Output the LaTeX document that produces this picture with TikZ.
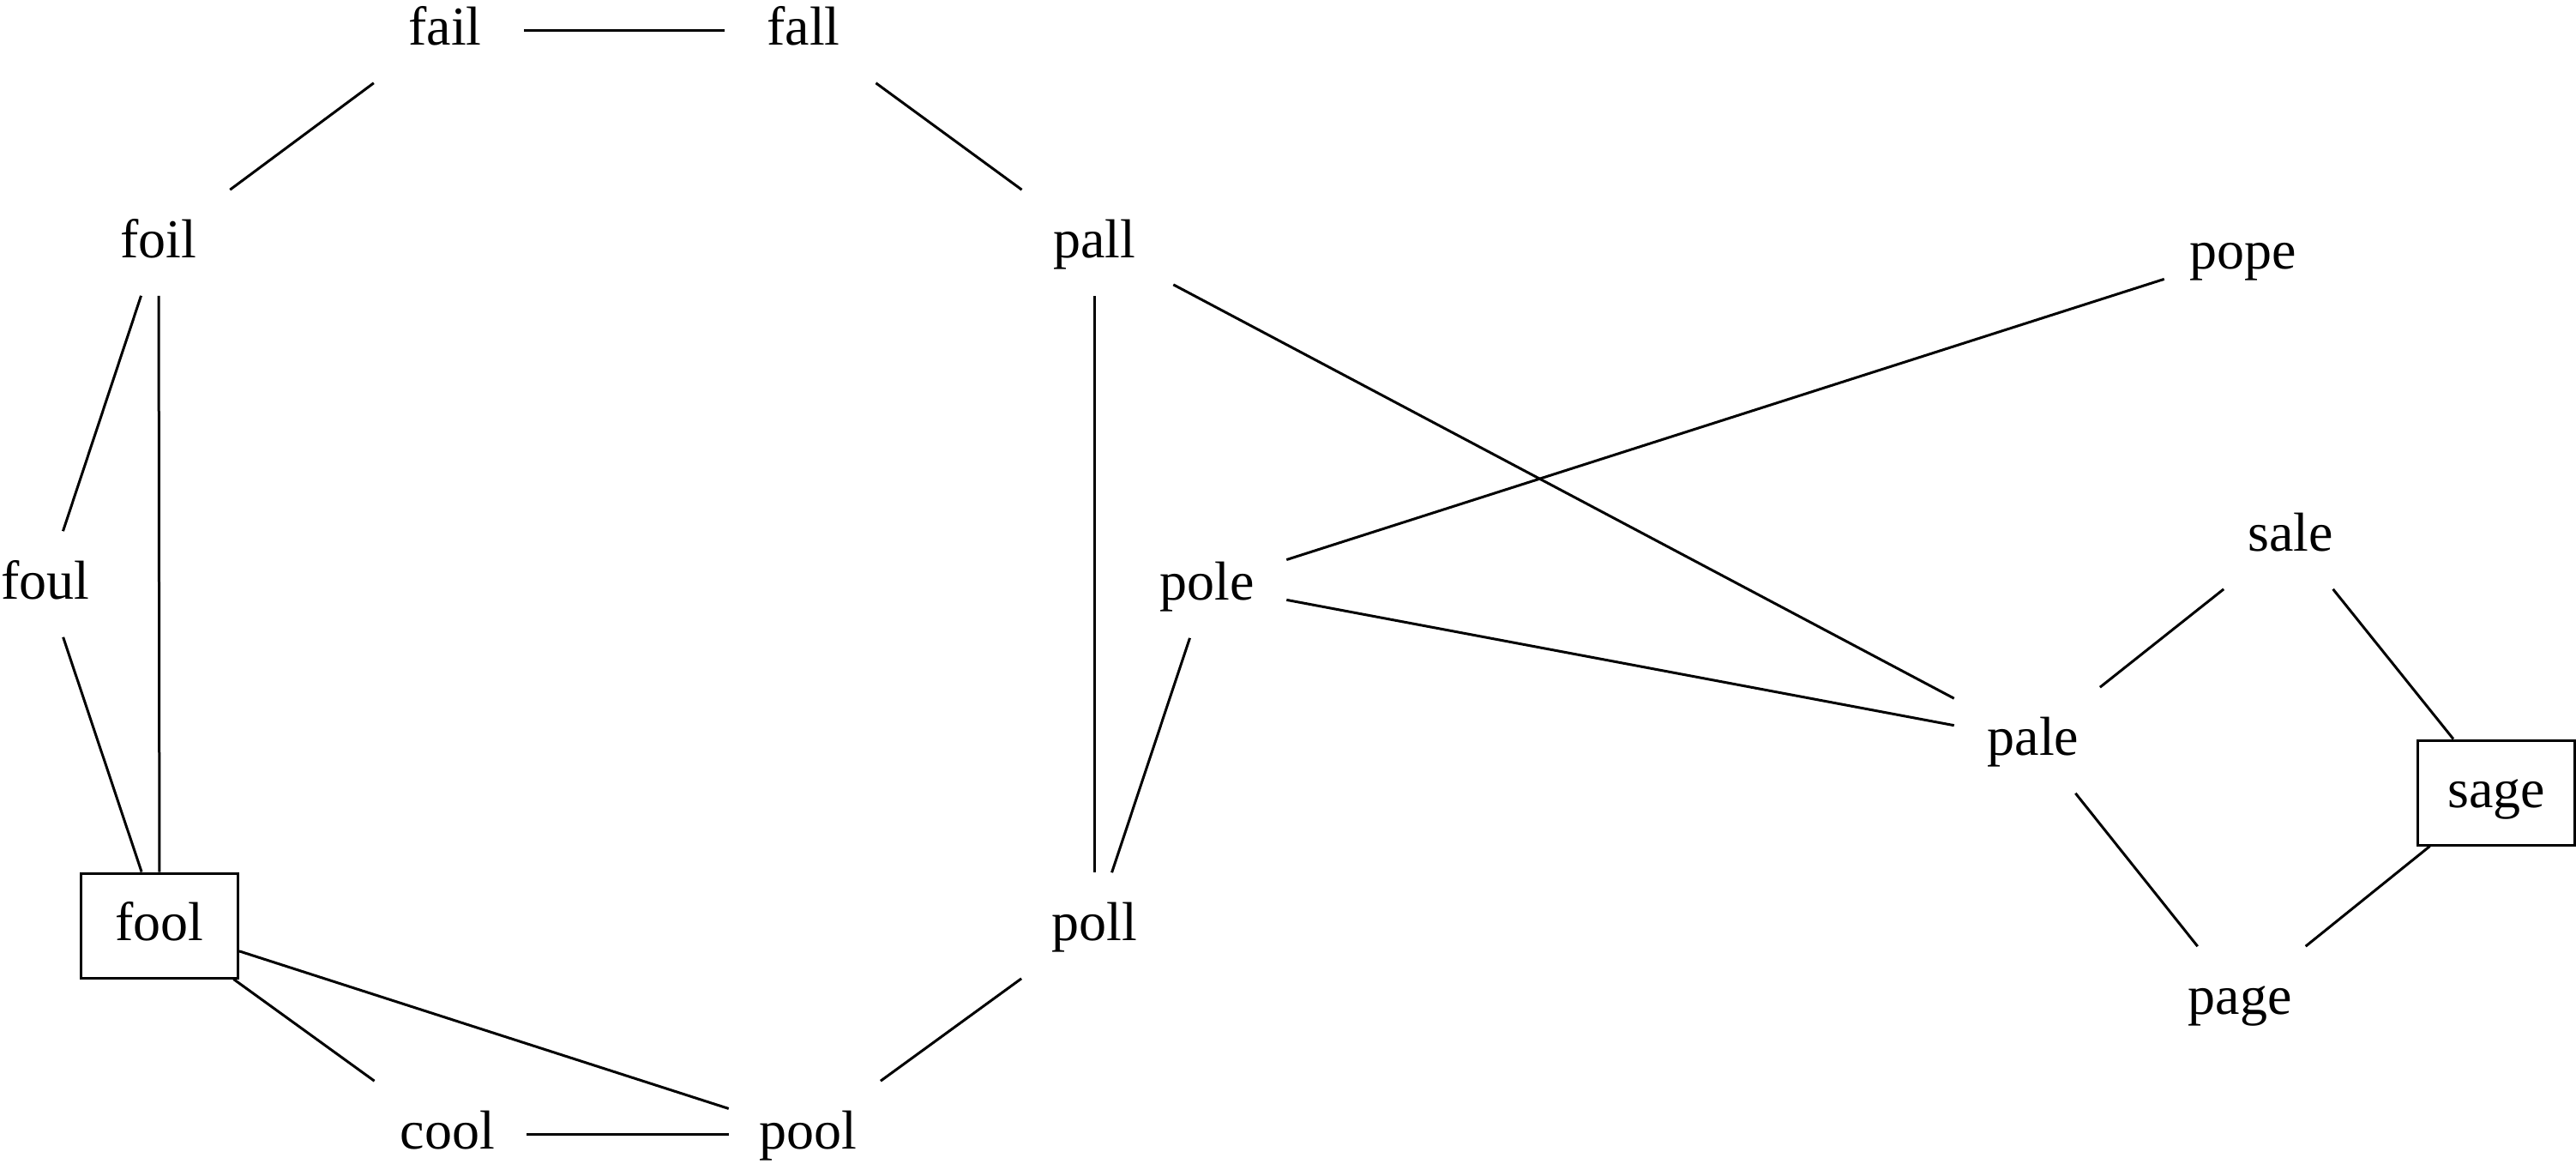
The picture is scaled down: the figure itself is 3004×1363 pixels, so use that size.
\documentclass[tikz,border=0pt]{standalone}
\usepackage{fontspec}
\setmainfont{Liberation Serif}
\begin{document}
\begin{tikzpicture}[x=0.25pt,y=-0.25pt,
  word/.style={rectangle,inner sep=0pt,minimum width=45.75pt,minimum height=30.5pt,
    font=\fontsize{16}{19}\selectfont,text height=10pt,text depth=1.5pt},
  boxed/.style={rectangle,draw,line width=0.75pt,inner sep=0pt,minimum width=45.75pt,minimum height=30.5pt,
    font=\fontsize{16}{19}\selectfont,text height=10pt,text depth=1.5pt},
  link/.style={line width=0.75pt}]
\useasboundingbox (0,0) rectangle (3004,1363);
\node[word] (fail) at (519,35) {fail};
\node[word] (fall) at (937,35) {fall};
\node[word] (foil) at (185,283) {foil};
\node[word] (pall) at (1276,283) {pall};
\node[word] (pope) at (2616,296) {pope};
\node[word] (foul) at (53,681) {foul};
\node[word] (pole) at (1408,682) {pole};
\node[word] (sale) at (2671,625) {sale};
\node[word] (pale) at (2371,863) {pale};
\node[boxed] (sage) at (2911,924) {sage};
\node[boxed] (fool) at (186,1079) {fool};
\node[word] (poll) at (1276,1079) {poll};
\node[word] (page) at (2612,1165) {page};
\node[word] (cool) at (522,1322) {cool};
\node[word] (pool) at (942,1322) {pool};
\draw[link] (fail) -- (fall);
\draw[link] (fail) -- (foil);
\draw[link] (fall) -- (pall);
\draw[link] (foil) -- (foul);
\draw[link] (foil) -- (fool);
\draw[link] (foul) -- (fool);
\draw[link] (pall) -- (poll);
\draw[link] (pall) -- (pale);
\draw[link] (pope) -- (pole);
\draw[link] (pole) -- (pale);
\draw[link] (pole) -- (poll);
\draw[link] (poll) -- (pool);
\draw[link] (fool) -- (pool);
\draw[link] (fool) -- (cool);
\draw[link] (cool) -- (pool);
\draw[link] (pale) -- (sale);
\draw[link] (sale) -- (sage);
\draw[link] (pale) -- (page);
\draw[link] (page) -- (sage);
\end{tikzpicture}
\end{document}
